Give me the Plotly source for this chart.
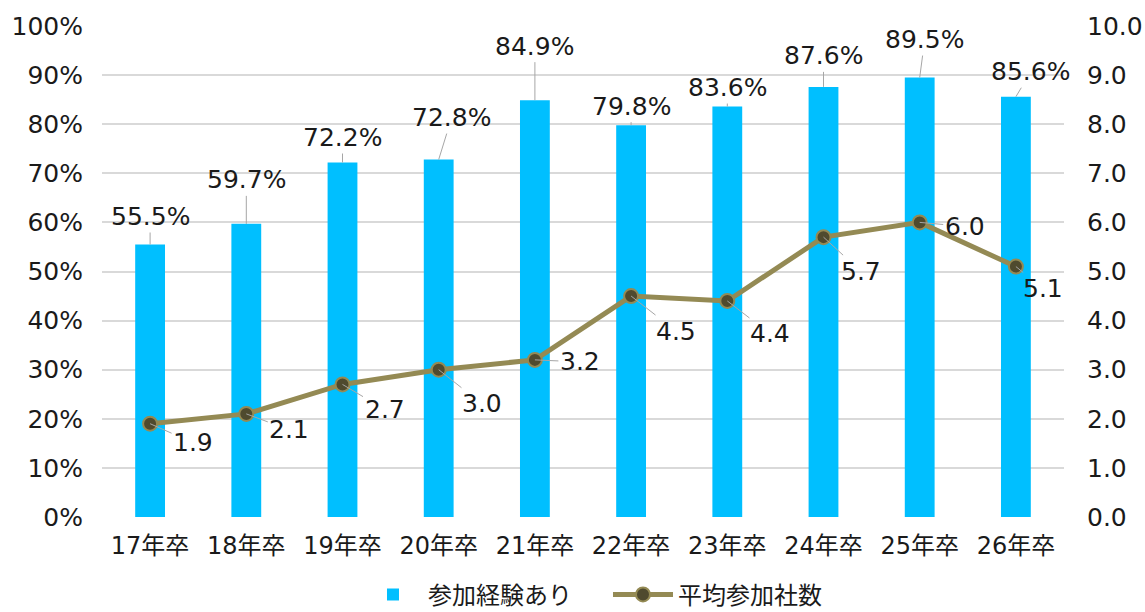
import plotly.graph_objects as go

categories = ["17年卒", "18年卒", "19年卒", "20年卒", "21年卒", "22年卒", "23年卒", "24年卒", "25年卒", "26年卒"]
experience_pct = [55.5, 59.7, 72.2, 72.8, 84.9, 79.8, 83.6, 87.6, 89.5, 85.6]
avg_companies = [1.9, 2.1, 2.7, 3.0, 3.2, 4.5, 4.4, 5.7, 6.0, 5.1]

# label offsets (pixels) for leader lines
bar_label_off = [(0, -28), (0, -44), (0, -25), (13, -42), (0, -54), (0, -19), (0, -19), (0, -31), (5, -38), (15, -25)]
line_label_off = [(43, 19), (43, 16), (42, 25), (43, 34), (45, 2), (45, 35), (43, 33), (37, 34), (45, 4), (27, 22)]

FONT = "DejaVu Sans, Noto Sans CJK JP"
LBL = 25
fig = go.Figure()
fig.add_trace(go.Bar(
    x=categories, y=experience_pct, name="参加経験あり",
    marker=dict(color="#00BFFF", line=dict(width=0)), width=0.31,
    yaxis="y",
))
fig.add_trace(go.Scatter(
    x=categories, y=avg_companies, name="平均参加社数", mode="lines+markers",
    line=dict(color="#948A54", width=5),
    marker=dict(size=14, color="#4F4A2E", line=dict(color="#948A54", width=2)),
    yaxis="y2",
))

annotations = []
for c, v, (ax, ay) in zip(categories, experience_pct, bar_label_off):
    annotations.append(dict(
        x=c, y=v, xref="x", yref="y", text=f"{v:.1f}%", showarrow=True,
        arrowhead=0, arrowwidth=1, arrowcolor="#A6A6A6", ax=ax, ay=ay,
        font=dict(family=FONT, size=LBL, color="#1a1a1a"),
    ))
for c, v, (ax, ay) in zip(categories, avg_companies, line_label_off):
    annotations.append(dict(
        x=c, y=v, xref="x", yref="y2", text=f"{v:.1f}", showarrow=True,
        arrowhead=0, arrowwidth=1, arrowcolor="#A6A6A6", ax=ax, ay=ay,
        font=dict(family=FONT, size=LBL, color="#1a1a1a"),
    ))

fig.update_layout(
    width=1145, height=612,
    margin=dict(l=102, r=81, t=26, b=95, autoexpand=False),
    paper_bgcolor="white", plot_bgcolor="white",
    font=dict(family=FONT, size=LBL, color="#1a1a1a"),
    bargap=0.69,
    xaxis=dict(range=[-0.5, len(categories) - 0.5], showline=False, ticks="", showgrid=False,
               tickfont=dict(size=24), automargin=False, ticklabelstandoff=12),
    yaxis=dict(range=[0, 100], dtick=10, ticksuffix="%", showgrid=True,
               gridcolor="#D9D9D9", gridwidth=1.5, zeroline=False,
               tickfont=dict(size=LBL), ticklabelstandoff=18, automargin=False),
    yaxis2=dict(range=[0, 10], dtick=1, tickformat=".1f", overlaying="y", side="right",
                showgrid=False, zeroline=False, tickfont=dict(size=LBL), ticklabelstandoff=22,
                automargin=False),
    legend=dict(orientation="h", x=0.531, xanchor="center", xref="container",
                y=0.028, yanchor="middle", yref="container",
                font=dict(family="Noto Sans CJK JP", size=24), itemwidth=60,
                entrywidth=175, entrywidthmode="pixels"),
    annotations=annotations,
)
fig.write_html("out.html", config={"displayModeBar": False},
               post_script="document.body.style.margin='0';document.body.style.overflow='hidden';")
